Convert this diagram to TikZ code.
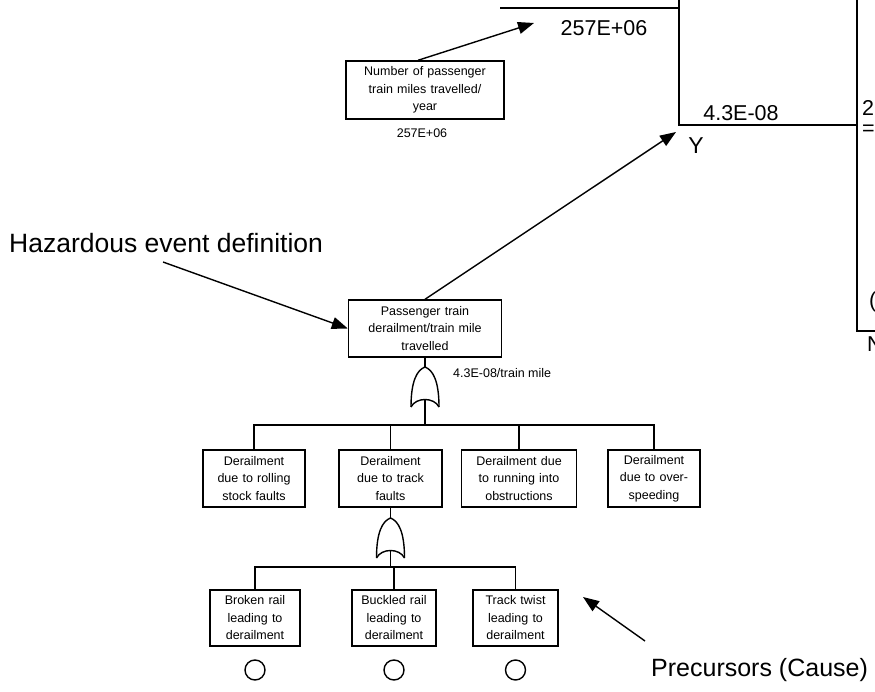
\documentclass[tikz,border=0pt]{standalone}
\usepackage{fontspec}
\setmainfont{Liberation Sans}
\usetikzlibrary{arrows.meta}

\tikzset{
  faultbox/.style={draw, line width=1.4pt, inner sep=0pt, align=center,
    minimum height=57pt, font=\fontsize{12.5}{17.5}\selectfont},
  conn/.style={line width=1.4pt},
  pointer/.style={line width=1.4pt, -{Triangle[length=16pt,width=12pt]}},
  biglabel/.style={font=\fontsize{21.5}{25}\selectfont, inner sep=0pt},
  notelabel/.style={font=\fontsize{25}{30}\selectfont, inner sep=0pt},
  smalllabel/.style={font=\fontsize{12.5}{15}\selectfont, inner sep=0pt},
  basicevent/.style={draw, circle, line width=1.4pt, minimum size=20pt, inner sep=0pt}
}

\begin{document}
\begin{tikzpicture}[x=1pt,y=-1pt]
\useasboundingbox (0,0) rectangle (875,692);

% Marking top event
\node[faultbox, text width=153pt] (event) at (425,328.5) {Passenger train\\derailment/train mile\\travelled};
\node[smalllabel, anchor=west] (rate) at (453,373) {4.3E-08/train mile};

% Marking exposure box
\node[faultbox, text width=158pt, minimum height=58pt] (miles) at (425,90) {Number of passenger\\train miles travelled/\\year};
\node[smalllabel] (milesval) at (422,133) {257E+06};

% Marking first level causes
\node[faultbox, text width=102pt] (d1) at (254,478.5) {Derailment\\due to rolling\\stock faults};
\node[faultbox, text width=103pt] (d2) at (390.5,478.5) {Derailment\\due to track\\faults};
\node[faultbox, text width=115pt] (d3) at (519,478.5) {Derailment due\\to running into\\obstructions};
\node[faultbox, text width=92pt] (d4) at (654,478.5) {Derailment\\due to over-\\speeding};

% Marking precursors
\node[faultbox, text width=90pt, minimum height=56pt] (p1) at (255,618) {Broken rail\\leading to\\derailment};
\node[faultbox, text width=84pt, minimum height=56pt] (p2) at (394,618) {Buckled rail\\leading to\\derailment};
\node[faultbox, text width=85pt, minimum height=56pt] (p3) at (515.5,618) {Track twist\\leading to\\derailment};
\node[basicevent] (c1) at (255,670) {};
\node[basicevent] (c2) at (394,670) {};
\node[basicevent] (c3) at (515.5,670) {};

% Drawing OR gate under top event
\coordinate (g1top) at (425,367);
\coordinate (g1in) at (425,399);
\coordinate (bus1) at (425,425);
\draw[conn] (event.south) -- (g1top);
\draw[conn] (411,407) .. controls (411,381) and (417,370) .. (g1top) .. controls (433,370) and (439,381) .. (439,407);
\draw[conn] (411,407) .. controls (416,397) and (434,397) .. (439,407);
\draw[conn] (g1in) -- (bus1);
\foreach \n in {d1,d2,d3,d4}
  \draw[conn] (\n.north) |- (bus1);

% Drawing OR gate under track faults
\coordinate (g2top) at (390.5,518);
\coordinate (g2in) at (390.5,550);
\coordinate (bus2) at (390.5,567);
\draw[conn] (d2.south) -- (g2top);
\draw[conn] (376.5,558) .. controls (376.5,532) and (382.5,521) .. (g2top) .. controls (398.5,521) and (404.5,532) .. (404.5,558);
\draw[conn] (376.5,558) .. controls (381.5,548) and (399.5,548) .. (404.5,558);
\draw[conn] (g2in) -- (bus2);
\foreach \n in {p1,p2,p3}
  \draw[conn] (\n.north) |- (bus2);

% Marking notes
\node[font=\fontsize{26.5}{30}\selectfont, inner sep=0pt, anchor=west] (hazard) at (9,243) {Hazardous event definition};
\node[notelabel, anchor=west] (cause) at (651,670) {Precursors (Cause)};
\coordinate (hazardtail) at (163,262);
\coordinate (causetail) at (645,641);
\coordinate (causetip) at (583,597);
\draw[pointer] (hazardtail) -- (event.west);
\draw[pointer] (causetail) -- (causetip);

% Drawing calculation block
\coordinate (ytip) at (676,132);
\coordinate (milestip) at (534,23);
\draw[pointer] (event.north) -- (ytip);
\draw[pointer] ([xshift=-7pt]miles.north) -- (milestip);
\draw[conn] (500,8) -- (679,8);
\draw[conn] (679,0) -- (679,125) -- (857,125);
\draw[conn] (857,0) -- (857,331) -- (875,331);
\node[biglabel] (milesin) at (604,28) {257E+06};
\node[biglabel] (ratein) at (741,113) {4.3E-08};
\node[font=\fontsize{23}{25}\selectfont, inner sep=0pt] (ylabel) at (696,146) {Y};
\node[biglabel, anchor=west] (prodtxt) at (862,108) {2};
\node[biglabel, anchor=west] (eqtxt) at (862,130) {=};
\node[biglabel, anchor=west] (brtxt) at (869,302) {(};
\node[biglabel, anchor=west] (ntxt) at (867,344) {N};
\end{tikzpicture}
\end{document}
